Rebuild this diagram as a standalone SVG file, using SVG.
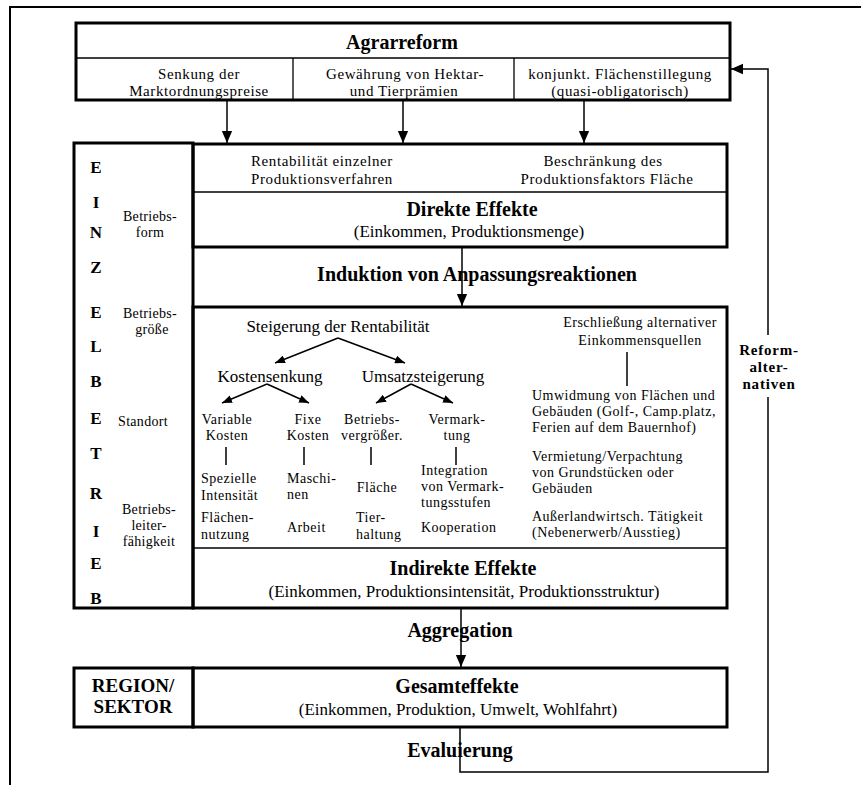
<svg xmlns="http://www.w3.org/2000/svg" width="861" height="785" viewBox="0 0 861 785">
<style>
text{font-family:"Liberation Serif","Times New Roman",serif;fill:#000}
.b{font-weight:bold}
.t20{font-size:20px}
.t19{font-size:19px}
.t17{font-size:17px}
.t16{font-size:15px;letter-spacing:0.6px}
.t15{font-size:14px;letter-spacing:0.5px}
.t14{font-size:14px;letter-spacing:0.3px}
.c{text-anchor:middle}
.thick{fill:none;stroke:#000;stroke-width:3}
.thin{fill:none;stroke:#000;stroke-width:1.3}
.con{fill:none;stroke:#000;stroke-width:1.5}
</style>
<defs>
<marker id="ah" markerUnits="userSpaceOnUse" markerWidth="12" markerHeight="16" refX="14" refY="6" orient="auto" viewBox="0 0 14 12">
<path d="M0,0 L14,6 L0,12 Z" fill="#000"/>
</marker>
<marker id="as" markerUnits="userSpaceOnUse" markerWidth="10" markerHeight="8" refX="10" refY="4" orient="auto" viewBox="0 0 10 8">
<path d="M0,0 L10,4 L0,8 Z" fill="#000"/>
</marker>
</defs>
<rect width="861" height="785" fill="#fff"/>
<g id="frame">
<path d="M10,785 V7 H861" fill="none" stroke="#000" stroke-width="2"/>
</g>
<g id="agrarreform">
<rect x="76" y="23" width="654" height="77" class="thick"/>
<path d="M76,58 H730 M293,58 V100 M514,58 V100" class="thin"/>
<text x="402" y="49" class="b t20 c">Agrarreform</text>
<text x="199" y="79" class="t16 c">Senkung der</text>
<text x="199" y="96" class="t16 c">Marktordnungspreise</text>
<text x="405" y="79" class="t16 c">Gewährung von Hektar-</text>
<text x="404" y="96" class="t16 c">und Tierprämien</text>
<text x="620" y="79" class="t16 c">konjunkt. Flächenstillegung</text>
<text x="620" y="96" class="t16 c">(quasi-obligatorisch)</text>
</g>
<g id="einzelbetrieb">
<rect x="74" y="143" width="119" height="465" class="thick"/>
<text x="96" y="173" class="b t17 c">E</text>
<text x="96" y="208" class="b t17 c">I</text>
<text x="96" y="238" class="b t17 c">N</text>
<text x="96" y="273" class="b t17 c">Z</text>
<text x="96" y="318" class="b t17 c">E</text>
<text x="96" y="352" class="b t17 c">L</text>
<text x="96" y="387" class="b t17 c">B</text>
<text x="96" y="424" class="b t17 c">E</text>
<text x="96" y="459" class="b t17 c">T</text>
<text x="96" y="499" class="b t17 c">R</text>
<text x="96" y="537" class="b t17 c">I</text>
<text x="96" y="569" class="b t17 c">E</text>
<text x="96" y="604" class="b t17 c">B</text>
<text x="150" y="221" class="t14 c">Betriebs-</text>
<text x="150" y="237" class="t14 c">form</text>
<text x="150" y="318" class="t14 c">Betriebs-</text>
<text x="152" y="334" class="t14 c">größe</text>
<text x="143" y="426" class="t14 c">Standort</text>
<text x="149" y="514" class="t14 c">Betriebs-</text>
<text x="149" y="530" class="t14 c">leiter-</text>
<text x="149" y="546" class="t14 c">fähigkeit</text>
</g>
<g id="direkte-effekte">
<rect x="193" y="144" width="534" height="103" class="thick"/>
<path d="M193,192 H727" class="thin"/>
<text x="251" y="166" class="t16">Rentabilität einzelner</text>
<text x="251" y="184" class="t16">Produktionsverfahren</text>
<text x="603" y="166" class="t16 c">Beschränkung des</text>
<text x="607" y="184" class="t16 c">Produktionsfaktors Fläche</text>
<text x="472" y="216" class="b t20 c">Direkte Effekte</text>
<text x="469" y="237" class="t17 c">(Einkommen, Produktionsmenge)</text>
</g>
<g id="induktion">
<text x="477" y="281" class="b t20 c">Induktion von Anpassungsreaktionen</text>
</g>
<g id="indirekte-effekte">
<rect x="193" y="307" width="534" height="301" class="thick"/>
<path d="M193,548 H727" class="thin"/>
<text x="338" y="332" class="t17 c">Steigerung der Rentabilität</text>
<text x="270" y="382" class="t17 c">Kostensenkung</text>
<text x="423" y="382" class="t17 c">Umsatzsteigerung</text>
<text x="227" y="424" class="t15 c">Variable</text>
<text x="227" y="440" class="t15 c">Kosten</text>
<text x="308" y="424" class="t15 c">Fixe</text>
<text x="308" y="440" class="t15 c">Kosten</text>
<text x="372" y="424" class="t15 c">Betriebs-</text>
<text x="372" y="440" class="t15 c">vergrößer.</text>
<text x="457" y="424" class="t15 c">Vermark-</text>
<text x="457" y="440" class="t15 c">tung</text>
<text x="201" y="483" class="t15">Spezielle</text>
<text x="201" y="500" class="t15">Intensität</text>
<text x="201" y="522" class="t15">Flächen-</text>
<text x="201" y="539" class="t15">nutzung</text>
<text x="287" y="483" class="t15">Maschi-</text>
<text x="287" y="499" class="t15">nen</text>
<text x="287" y="532" class="t15">Arbeit</text>
<text x="377" y="492" class="t15 c">Fläche</text>
<text x="356" y="522" class="t15">Tier-</text>
<text x="356" y="539" class="t15">haltung</text>
<text x="421" y="475" class="t15">Integration</text>
<text x="421" y="491" class="t15">von Vermark-</text>
<text x="421" y="507" class="t15">tungsstufen</text>
<text x="421" y="532" class="t15">Kooperation</text>
<text x="640" y="327" class="t15 c">Erschließung alternativer</text>
<text x="640" y="345" class="t15 c">Einkommensquellen</text>
<text x="532" y="400" class="t15">Umwidmung von Flächen und</text>
<text x="532" y="416" class="t15">Gebäuden (Golf-, Camp.platz,</text>
<text x="532" y="432" class="t15">Ferien auf dem Bauernhof)</text>
<text x="532" y="461" class="t15">Vermietung/Verpachtung</text>
<text x="532" y="477" class="t15">von Grundstücken oder</text>
<text x="532" y="493" class="t15">Gebäuden</text>
<text x="532" y="521" class="t15">Außerlandwirtsch. Tätigkeit</text>
<text x="532" y="537" class="t15">(Nebenerwerb/Ausstieg)</text>
<text x="463" y="575" class="b t20 c">Indirekte Effekte</text>
<text x="464" y="597" class="t17 c">(Einkommen, Produktionsintensität, Produktionsstruktur)</text>
</g>
<g id="aggregation">
<text x="460" y="637" class="b t20 c">Aggregation</text>
</g>
<g id="region">
<rect x="74" y="668" width="119" height="59" class="thick"/>
<text x="133" y="692" class="b t19 c">REGION/</text>
<text x="133" y="713" class="b t19 c">SEKTOR</text>
</g>
<g id="gesamteffekte">
<rect x="193" y="668" width="534" height="59" class="thick"/>
<text x="457" y="693" class="b t20 c">Gesamteffekte</text>
<text x="458" y="715" class="t17 c">(Einkommen, Produktion, Umwelt, Wohlfahrt)</text>
</g>
<g id="evaluierung">
<text x="460" y="757" class="b t20 c">Evaluierung</text>
</g>
<g id="reform-alternativen">
<text x="769" y="355" class="b c" style="font-size:15px;letter-spacing:0.8px">Reform-</text>
<text x="769" y="372" class="b c" style="font-size:15px;letter-spacing:0.8px">alter-</text>
<text x="769" y="389" class="b c" style="font-size:15px;letter-spacing:0.8px">nativen</text>
</g>
<g id="connectors">
<path d="M227,100 V143" class="con" marker-end="url(#ah)"/>
<path d="M403,100 V143" class="con" marker-end="url(#ah)"/>
<path d="M584,100 V143" class="con" marker-end="url(#ah)"/>
<path d="M462,247 V306" class="con" marker-end="url(#ah)"/>
<path d="M461,608 V667" class="con" marker-end="url(#ah)"/>
<path d="M460,728 V772 H768 V397" class="con"/>
<path d="M768,335 V69 H731" class="con" marker-end="url(#ah)"/>
<path d="M338,338 L275,363" class="con" marker-end="url(#as)"/>
<path d="M338,338 L405,363" class="con" marker-end="url(#as)"/>
<path d="M267,384 L222,403" class="con" marker-end="url(#as)"/>
<path d="M267,384 L309,403" class="con" marker-end="url(#as)"/>
<path d="M411,384 L376,403" class="con" marker-end="url(#as)"/>
<path d="M411,384 L453,403" class="con" marker-end="url(#as)"/>
<path d="M226,447 V465 M304,447 V465 M371,447 V465 M456,447 V465" class="con"/>
<path d="M627,352 V386" class="con"/>
</g>
</svg>
